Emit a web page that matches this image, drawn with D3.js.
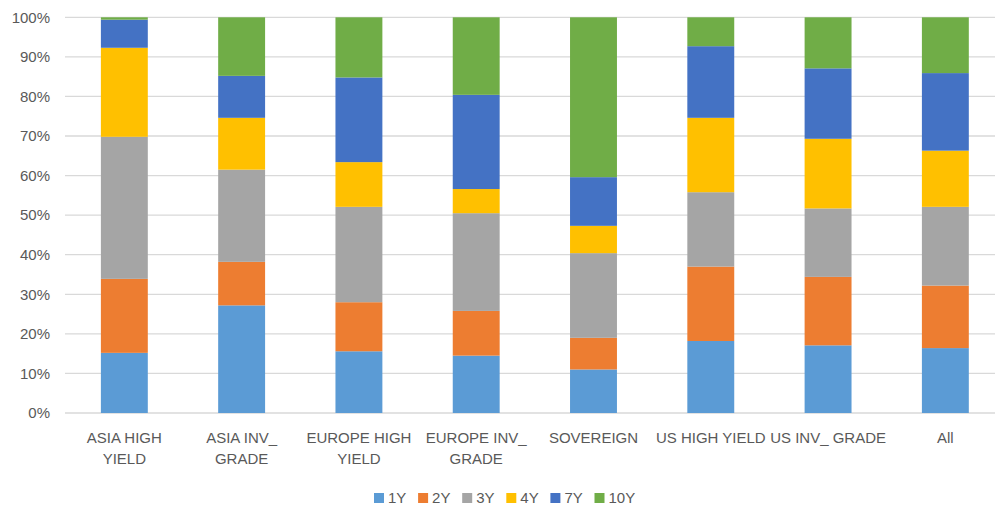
<!DOCTYPE html>
<html><head><meta charset="utf-8">
<script src="https://cdn.jsdelivr.net/npm/d3@7"></script>
<style>body{margin:0;background:#fff}svg{display:block}text{font-family:"Liberation Sans",Arial,sans-serif;fill:#595959}</style>
</head><body><svg id="c" width="995" height="509"></svg>
<script>
const categories = ["ASIA HIGH YIELD","ASIA INV_ GRADE","EUROPE HIGH YIELD","EUROPE INV_ GRADE","SOVEREIGN","US HIGH YIELD","US INV_ GRADE","All"];
const categoryLines = [["ASIA HIGH","YIELD"],["ASIA INV_","GRADE"],["EUROPE HIGH","YIELD"],["EUROPE INV_","GRADE"],["SOVEREIGN"],["US HIGH YIELD"],["US INV_ GRADE"],["All"]];
const seriesNames = ["1Y","2Y","3Y","4Y","7Y","10Y"];
const s1Y  = [15.2, 27.2, 15.6, 14.5, 11.0, 18.2, 17.1, 16.4];
const s2Y  = [18.7, 11.0, 12.4, 11.3,  8.0, 18.8, 17.3, 15.8];
const s3Y  = [35.9, 23.3, 24.1, 24.7, 21.4, 18.8, 17.3, 19.9];
const s4Y  = [22.5, 13.1, 11.3,  6.1,  6.9, 18.8, 17.6, 14.2];
const s7Y  = [ 7.1, 10.6, 21.4, 23.8, 12.3, 18.1, 17.8, 19.6];
const s10Y = [ 0.6, 14.8, 15.2, 19.6, 40.4,  7.3, 12.9, 14.1];
const yTicks = [0,10,20,30,40,50,60,70,80,90,100];
const colors = ["#5B9BD5","#ED7D31","#A5A5A5","#FFC000","#4472C4","#70AD47"];

const seriesVals = [s1Y,s2Y,s3Y,s4Y,s7Y,s10Y];
const rows = categories.map((c,i)=>{const r={cat:c}; seriesNames.forEach((s,j)=>r[s]=seriesVals[j][i]); return r;});
const stacked = d3.stack().keys(seriesNames).offset(d3.stackOffsetExpand)(rows);

const svg = d3.select("#c");
const x = d3.scaleBand().domain(categories).range([65.7, 1004]).paddingInner(0.6).paddingOuter(0.3);
const y = d3.scaleLinear().domain([0,1]).range([413, 17.3]);

// gridlines
svg.append("g").selectAll("line").data(yTicks).join("line")
  .attr("x1",65).attr("x2",995)
  .attr("y1",d=>y(d/100)).attr("y2",d=>y(d/100))
  .attr("stroke","#d9d9d9").attr("stroke-width",1.3);

// y labels
svg.append("g").selectAll("text").data(yTicks).join("text")
  .attr("x",50).attr("y",d=>y(d/100)).attr("dy","0.35em")
  .attr("text-anchor","end").attr("font-size",15).text(d=>d+"%");

// bars
const color = d3.scaleOrdinal().domain(seriesNames).range(colors);
svg.append("g").selectAll("g").data(stacked).join("g").attr("fill",d=>color(d.key))
  .selectAll("rect").data(d=>d).join("rect")
  .attr("x",d=>x(d.data.cat)).attr("width",x.bandwidth())
  .attr("y",d=>y(d[1])).attr("height",d=>y(d[0])-y(d[1]));

// category labels
const cl = svg.append("g").selectAll("text").data(categories).join("text")
  .attr("text-anchor","middle").attr("font-size",15)
  .attr("x",d=>x(d)+x.bandwidth()/2).attr("y",443);
cl.each(function(d,i){
  d3.select(this).selectAll("tspan").data(categoryLines[i]).join("tspan")
    .attr("x",x(d)+x.bandwidth()/2).attr("dy",(t,k)=>k===0?0:20.7).text(t=>t);
});

// legend
const lg = svg.append("g").selectAll("g").data(seriesNames).join("g")
  .attr("transform",(d,i)=>`translate(${374+i*44.1},0)`);
lg.append("rect").attr("x",0).attr("y",493).attr("width",10).attr("height",10).attr("fill",d=>color(d));
lg.append("text").attr("x",14).attr("y",498).attr("dy","0.35em").attr("font-size",15).text(d=>d);
</script></body></html>
